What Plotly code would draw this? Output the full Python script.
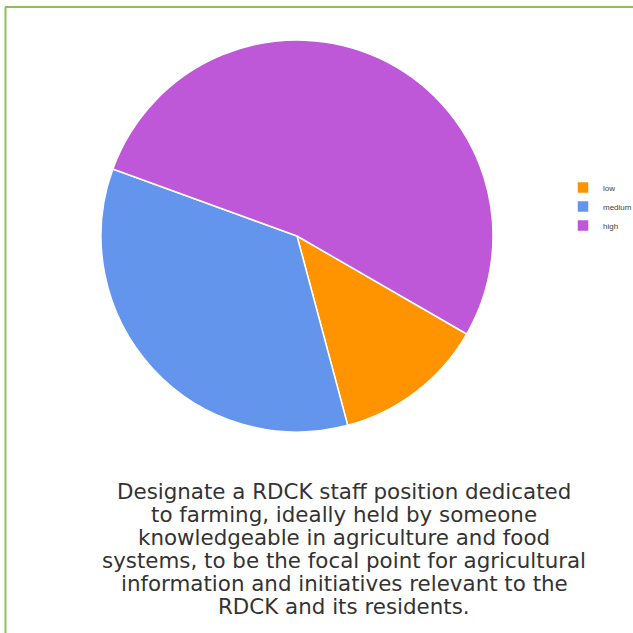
import plotly.graph_objects as go

labels = ["low", "medium", "high"]
values = [9, 25, 38]
colors = ["#FF9300", "#6495ED", "#BE58D8"]
caption_lines = [
    "Designate a RDCK staff position dedicated",
    "to farming, ideally held by someone",
    "knowledgeable in agriculture and food",
    "systems, to be the focal point for agricultural",
    "information and initiatives relevant to the",
    "RDCK and its residents.",
]

W = H = 633
fig = go.Figure(go.Pie(
    labels=labels, values=values, sort=False, direction="clockwise", rotation=120,
    marker=dict(colors=colors, line=dict(color="white", width=1.5)),
    textinfo="none", hoverinfo="label+percent",
    domain=dict(x=[101 / W, 493 / W], y=[1 - 432 / H, 1 - 40 / H]),
))

annotations = []
for i, line in enumerate(caption_lines):
    annotations.append(dict(
        text=line, x=344 / W, y=1 - (491 + 23 * i) / H,
        xref="paper", yref="paper", xanchor="center", yanchor="middle",
        showarrow=False, align="center",
        font=dict(family="DejaVu Sans", size=21.4, color="#333333"),
    ))

fig.update_layout(
    width=W, height=H, margin=dict(l=0, r=0, t=0, b=0, autoexpand=False),
    paper_bgcolor="white", plot_bgcolor="white",
    showlegend=True,
    legend=dict(x=563 / W, y=1 - 173 / H, xanchor="left", yanchor="top",
                font=dict(family="Liberation Sans, Arial", size=8, color="#444"),
                itemwidth=30, tracegroupgap=0),
    annotations=annotations,
    shapes=[
        dict(type="line", xref="paper", yref="paper", x0=5 / W, x1=1, y0=1 - 7 / H, y1=1 - 7 / H,
             line=dict(color="#8CC152", width=2)),
        dict(type="line", xref="paper", yref="paper", x0=5.5 / W, x1=5.5 / W, y0=0, y1=1 - 7 / H,
             line=dict(color="#8CC152", width=2)),
    ],
)

fig.write_html("out.html", config={"displayModeBar": False},
               post_script="document.body.style.margin='0';document.body.style.overflow='hidden';")
